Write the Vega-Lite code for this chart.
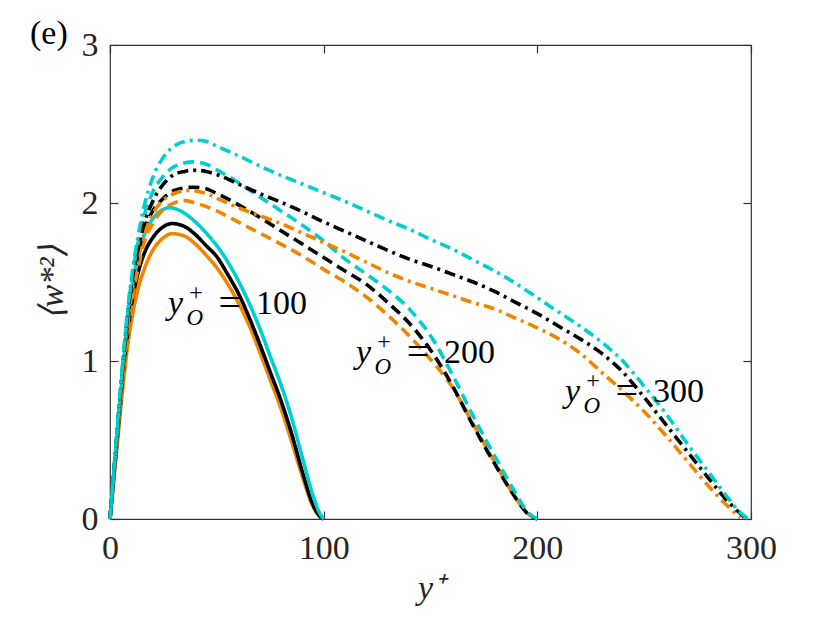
{
"$schema": "https://vega.github.io/schema/vega-lite/v6.json",
"width": 641, "height": 474,
"autosize": {"type": "none"},
"padding": {"left": 110, "top": 45, "right": 79, "bottom": 104},
"background": "white",
"title": {"text": "(e)", "anchor": "start", "frame": "group", "dx": -80, "offset": 0, "baseline": "middle", "dy": 40, "font": "Liberation Serif", "fontSize": 34, "fontWeight": "normal", "color": "#000"},
"config": {
  "view": {"stroke": "#333333", "strokeWidth": 1.2},
  "axis": {"domain": false, "grid": false, "labelFont": "Liberation Serif", "labelFontSize": 34, "labelColor": "#262626", "tickColor": "#333333", "tickSize": -8, "tickWidth": 1.2, "titleFont": "Liberation Serif", "titleFontSize": 34, "titleFontWeight": "normal", "titleColor": "#262626", "labelFlush": false, "labelOverlap": false},
  "text": {"font": "Liberation Serif"}
},
"datasets": {
"curves": [
{"s":"a","o":100,"x":0,"y":0},{"s":"a","o":100,"x":2,"y":0.28},{"s":"a","o":100,"x":4,"y":0.56},{"s":"a","o":100,"x":6,"y":0.83},{"s":"a","o":100,"x":8,"y":1.07},{"s":"a","o":100,"x":10,"y":1.25},{"s":"a","o":100,"x":13,"y":1.45},{"s":"a","o":100,"x":16,"y":1.58},{"s":"a","o":100,"x":20,"y":1.7},{"s":"a","o":100,"x":25,"y":1.78},{"s":"a","o":100,"x":29,"y":1.806},{"s":"a","o":100,"x":35,"y":1.79},{"s":"a","o":100,"x":40,"y":1.74},{"s":"a","o":100,"x":45,"y":1.67},{"s":"a","o":100,"x":50,"y":1.59},{"s":"a","o":100,"x":55,"y":1.49},{"s":"a","o":100,"x":60,"y":1.37},{"s":"a","o":100,"x":65,"y":1.23},{"s":"a","o":100,"x":70,"y":1.06},{"s":"a","o":100,"x":75,"y":0.88},{"s":"a","o":100,"x":80,"y":0.7},{"s":"a","o":100,"x":85,"y":0.49},{"s":"a","o":100,"x":90,"y":0.27},{"s":"a","o":100,"x":95,"y":0.08},{"s":"a","o":100,"x":98,"y":0.02},{"s":"a","o":100,"x":100,"y":0},
{"s":"b","o":100,"x":0,"y":0},{"s":"b","o":100,"x":2,"y":0.3},{"s":"b","o":100,"x":4,"y":0.6},{"s":"b","o":100,"x":6,"y":0.9},{"s":"b","o":100,"x":8,"y":1.15},{"s":"b","o":100,"x":10,"y":1.35},{"s":"b","o":100,"x":13,"y":1.55},{"s":"b","o":100,"x":16,"y":1.68},{"s":"b","o":100,"x":20,"y":1.78},{"s":"b","o":100,"x":25,"y":1.85},{"s":"b","o":100,"x":29,"y":1.87},{"s":"b","o":100,"x":35,"y":1.85},{"s":"b","o":100,"x":40,"y":1.8},{"s":"b","o":100,"x":45,"y":1.73},{"s":"b","o":100,"x":50,"y":1.66},{"s":"b","o":100,"x":55,"y":1.55},{"s":"b","o":100,"x":60,"y":1.43},{"s":"b","o":100,"x":65,"y":1.28},{"s":"b","o":100,"x":70,"y":1.11},{"s":"b","o":100,"x":75,"y":0.93},{"s":"b","o":100,"x":80,"y":0.75},{"s":"b","o":100,"x":85,"y":0.54},{"s":"b","o":100,"x":90,"y":0.3},{"s":"b","o":100,"x":95,"y":0.09},{"s":"b","o":100,"x":98,"y":0.02},{"s":"b","o":100,"x":100,"y":0},
{"s":"c","o":100,"x":0,"y":0},{"s":"c","o":100,"x":2,"y":0.32},{"s":"c","o":100,"x":4,"y":0.64},{"s":"c","o":100,"x":6,"y":0.95},{"s":"c","o":100,"x":8,"y":1.22},{"s":"c","o":100,"x":10,"y":1.44},{"s":"c","o":100,"x":13,"y":1.66},{"s":"c","o":100,"x":16,"y":1.8},{"s":"c","o":100,"x":20,"y":1.9},{"s":"c","o":100,"x":25,"y":1.96},{"s":"c","o":100,"x":28,"y":1.97},{"s":"c","o":100,"x":33,"y":1.95},{"s":"c","o":100,"x":40,"y":1.88},{"s":"c","o":100,"x":45,"y":1.81},{"s":"c","o":100,"x":50,"y":1.73},{"s":"c","o":100,"x":55,"y":1.63},{"s":"c","o":100,"x":60,"y":1.51},{"s":"c","o":100,"x":65,"y":1.37},{"s":"c","o":100,"x":70,"y":1.21},{"s":"c","o":100,"x":75,"y":1.03},{"s":"c","o":100,"x":80,"y":0.85},{"s":"c","o":100,"x":85,"y":0.64},{"s":"c","o":100,"x":90,"y":0.39},{"s":"c","o":100,"x":95,"y":0.15},{"s":"c","o":100,"x":98,"y":0.04},{"s":"c","o":100,"x":100,"y":0},
{"s":"a","o":200,"x":0,"y":0},{"s":"a","o":200,"x":2,"y":0.3},{"s":"a","o":200,"x":4,"y":0.6},{"s":"a","o":200,"x":6,"y":0.89},{"s":"a","o":200,"x":8,"y":1.14},{"s":"a","o":200,"x":10,"y":1.35},{"s":"a","o":200,"x":13,"y":1.58},{"s":"a","o":200,"x":16,"y":1.75},{"s":"a","o":200,"x":20,"y":1.87},{"s":"a","o":200,"x":25,"y":1.96},{"s":"a","o":200,"x":30,"y":2.0},{"s":"a","o":200,"x":34,"y":2.017},{"s":"a","o":200,"x":40,"y":2.0},{"s":"a","o":200,"x":50,"y":1.95},{"s":"a","o":200,"x":60,"y":1.88},{"s":"a","o":200,"x":70,"y":1.81},{"s":"a","o":200,"x":80,"y":1.74},{"s":"a","o":200,"x":90,"y":1.665},{"s":"a","o":200,"x":100,"y":1.58},{"s":"a","o":200,"x":110,"y":1.5},{"s":"a","o":200,"x":120,"y":1.405},{"s":"a","o":200,"x":130,"y":1.29},{"s":"a","o":200,"x":140,"y":1.16},{"s":"a","o":200,"x":150,"y":1.01},{"s":"a","o":200,"x":160,"y":0.84},{"s":"a","o":200,"x":170,"y":0.6},{"s":"a","o":200,"x":180,"y":0.36},{"s":"a","o":200,"x":190,"y":0.13},{"s":"a","o":200,"x":195,"y":0.04},{"s":"a","o":200,"x":200,"y":0},
{"s":"b","o":200,"x":0,"y":0},{"s":"b","o":200,"x":2,"y":0.32},{"s":"b","o":200,"x":4,"y":0.64},{"s":"b","o":200,"x":6,"y":0.95},{"s":"b","o":200,"x":8,"y":1.22},{"s":"b","o":200,"x":10,"y":1.44},{"s":"b","o":200,"x":13,"y":1.67},{"s":"b","o":200,"x":16,"y":1.83},{"s":"b","o":200,"x":20,"y":1.95},{"s":"b","o":200,"x":25,"y":2.03},{"s":"b","o":200,"x":30,"y":2.08},{"s":"b","o":200,"x":39,"y":2.1},{"s":"b","o":200,"x":45,"y":2.09},{"s":"b","o":200,"x":50,"y":2.06},{"s":"b","o":200,"x":60,"y":1.99},{"s":"b","o":200,"x":70,"y":1.91},{"s":"b","o":200,"x":80,"y":1.825},{"s":"b","o":200,"x":90,"y":1.74},{"s":"b","o":200,"x":100,"y":1.655},{"s":"b","o":200,"x":110,"y":1.57},{"s":"b","o":200,"x":120,"y":1.485},{"s":"b","o":200,"x":130,"y":1.37},{"s":"b","o":200,"x":140,"y":1.24},{"s":"b","o":200,"x":150,"y":1.07},{"s":"b","o":200,"x":160,"y":0.85},{"s":"b","o":200,"x":170,"y":0.59},{"s":"b","o":200,"x":180,"y":0.35},{"s":"b","o":200,"x":190,"y":0.13},{"s":"b","o":200,"x":195,"y":0.04},{"s":"b","o":200,"x":200,"y":0},
{"s":"c","o":200,"x":0,"y":0},{"s":"c","o":200,"x":2,"y":0.33},{"s":"c","o":200,"x":4,"y":0.66},{"s":"c","o":200,"x":6,"y":0.98},{"s":"c","o":200,"x":8,"y":1.27},{"s":"c","o":200,"x":10,"y":1.5},{"s":"c","o":200,"x":13,"y":1.74},{"s":"c","o":200,"x":16,"y":1.92},{"s":"c","o":200,"x":20,"y":2.07},{"s":"c","o":200,"x":25,"y":2.17},{"s":"c","o":200,"x":30,"y":2.23},{"s":"c","o":200,"x":39,"y":2.26},{"s":"c","o":200,"x":45,"y":2.245},{"s":"c","o":200,"x":50,"y":2.21},{"s":"c","o":200,"x":60,"y":2.13},{"s":"c","o":200,"x":70,"y":2.04},{"s":"c","o":200,"x":80,"y":1.95},{"s":"c","o":200,"x":90,"y":1.86},{"s":"c","o":200,"x":100,"y":1.76},{"s":"c","o":200,"x":110,"y":1.645},{"s":"c","o":200,"x":120,"y":1.55},{"s":"c","o":200,"x":130,"y":1.45},{"s":"c","o":200,"x":140,"y":1.33},{"s":"c","o":200,"x":150,"y":1.16},{"s":"c","o":200,"x":160,"y":0.92},{"s":"c","o":200,"x":170,"y":0.65},{"s":"c","o":200,"x":180,"y":0.4},{"s":"c","o":200,"x":190,"y":0.16},{"s":"c","o":200,"x":195,"y":0.05},{"s":"c","o":200,"x":200,"y":0},
{"s":"a","o":300,"x":0,"y":0},{"s":"a","o":300,"x":2,"y":0.31},{"s":"a","o":300,"x":4,"y":0.62},{"s":"a","o":300,"x":6,"y":0.92},{"s":"a","o":300,"x":8,"y":1.19},{"s":"a","o":300,"x":10,"y":1.41},{"s":"a","o":300,"x":13,"y":1.64},{"s":"a","o":300,"x":16,"y":1.8},{"s":"a","o":300,"x":20,"y":1.93},{"s":"a","o":300,"x":25,"y":2.02},{"s":"a","o":300,"x":30,"y":2.06},{"s":"a","o":300,"x":37,"y":2.08},{"s":"a","o":300,"x":45,"y":2.06},{"s":"a","o":300,"x":50,"y":2.03},{"s":"a","o":300,"x":60,"y":1.97},{"s":"a","o":300,"x":70,"y":1.92},{"s":"a","o":300,"x":80,"y":1.87},{"s":"a","o":300,"x":90,"y":1.81},{"s":"a","o":300,"x":100,"y":1.75},{"s":"a","o":300,"x":110,"y":1.69},{"s":"a","o":300,"x":120,"y":1.625},{"s":"a","o":300,"x":130,"y":1.56},{"s":"a","o":300,"x":140,"y":1.505},{"s":"a","o":300,"x":150,"y":1.46},{"s":"a","o":300,"x":160,"y":1.415},{"s":"a","o":300,"x":170,"y":1.37},{"s":"a","o":300,"x":180,"y":1.33},{"s":"a","o":300,"x":190,"y":1.27},{"s":"a","o":300,"x":200,"y":1.21},{"s":"a","o":300,"x":210,"y":1.14},{"s":"a","o":300,"x":220,"y":1.05},{"s":"a","o":300,"x":230,"y":0.93},{"s":"a","o":300,"x":240,"y":0.81},{"s":"a","o":300,"x":250,"y":0.68},{"s":"a","o":300,"x":260,"y":0.53},{"s":"a","o":300,"x":270,"y":0.37},{"s":"a","o":300,"x":280,"y":0.21},{"s":"a","o":300,"x":290,"y":0.07},{"s":"a","o":300,"x":295,"y":0.01},
{"s":"b","o":300,"x":0,"y":0},{"s":"b","o":300,"x":2,"y":0.33},{"s":"b","o":300,"x":4,"y":0.66},{"s":"b","o":300,"x":6,"y":0.97},{"s":"b","o":300,"x":8,"y":1.26},{"s":"b","o":300,"x":10,"y":1.48},{"s":"b","o":300,"x":13,"y":1.7},{"s":"b","o":300,"x":16,"y":1.87},{"s":"b","o":300,"x":20,"y":2.01},{"s":"b","o":300,"x":25,"y":2.12},{"s":"b","o":300,"x":30,"y":2.18},{"s":"b","o":300,"x":35,"y":2.2},{"s":"b","o":300,"x":40,"y":2.207},{"s":"b","o":300,"x":45,"y":2.2},{"s":"b","o":300,"x":50,"y":2.18},{"s":"b","o":300,"x":60,"y":2.12},{"s":"b","o":300,"x":70,"y":2.06},{"s":"b","o":300,"x":80,"y":2.005},{"s":"b","o":300,"x":90,"y":1.945},{"s":"b","o":300,"x":100,"y":1.88},{"s":"b","o":300,"x":110,"y":1.82},{"s":"b","o":300,"x":120,"y":1.76},{"s":"b","o":300,"x":130,"y":1.7},{"s":"b","o":300,"x":140,"y":1.645},{"s":"b","o":300,"x":150,"y":1.6},{"s":"b","o":300,"x":160,"y":1.55},{"s":"b","o":300,"x":170,"y":1.5},{"s":"b","o":300,"x":180,"y":1.44},{"s":"b","o":300,"x":190,"y":1.37},{"s":"b","o":300,"x":200,"y":1.3},{"s":"b","o":300,"x":210,"y":1.22},{"s":"b","o":300,"x":220,"y":1.14},{"s":"b","o":300,"x":230,"y":1.05},{"s":"b","o":300,"x":240,"y":0.93},{"s":"b","o":300,"x":250,"y":0.77},{"s":"b","o":300,"x":260,"y":0.6},{"s":"b","o":300,"x":270,"y":0.43},{"s":"b","o":300,"x":280,"y":0.26},{"s":"b","o":300,"x":290,"y":0.1},{"s":"b","o":300,"x":297,"y":0.01},
{"s":"c","o":300,"x":0,"y":0},{"s":"c","o":300,"x":2,"y":0.34},{"s":"c","o":300,"x":4,"y":0.68},{"s":"c","o":300,"x":6,"y":1.0},{"s":"c","o":300,"x":8,"y":1.29},{"s":"c","o":300,"x":10,"y":1.52},{"s":"c","o":300,"x":13,"y":1.78},{"s":"c","o":300,"x":16,"y":1.98},{"s":"c","o":300,"x":20,"y":2.16},{"s":"c","o":300,"x":25,"y":2.29},{"s":"c","o":300,"x":30,"y":2.36},{"s":"c","o":300,"x":35,"y":2.39},{"s":"c","o":300,"x":40,"y":2.397},{"s":"c","o":300,"x":45,"y":2.39},{"s":"c","o":300,"x":50,"y":2.36},{"s":"c","o":300,"x":60,"y":2.3},{"s":"c","o":300,"x":70,"y":2.235},{"s":"c","o":300,"x":80,"y":2.175},{"s":"c","o":300,"x":90,"y":2.12},{"s":"c","o":300,"x":100,"y":2.065},{"s":"c","o":300,"x":110,"y":2.01},{"s":"c","o":300,"x":120,"y":1.95},{"s":"c","o":300,"x":130,"y":1.89},{"s":"c","o":300,"x":140,"y":1.835},{"s":"c","o":300,"x":150,"y":1.77},{"s":"c","o":300,"x":160,"y":1.71},{"s":"c","o":300,"x":170,"y":1.64},{"s":"c","o":300,"x":180,"y":1.57},{"s":"c","o":300,"x":190,"y":1.49},{"s":"c","o":300,"x":200,"y":1.4},{"s":"c","o":300,"x":210,"y":1.31},{"s":"c","o":300,"x":220,"y":1.22},{"s":"c","o":300,"x":230,"y":1.12},{"s":"c","o":300,"x":240,"y":1.0},{"s":"c","o":300,"x":250,"y":0.84},{"s":"c","o":300,"x":260,"y":0.67},{"s":"c","o":300,"x":270,"y":0.48},{"s":"c","o":300,"x":280,"y":0.3},{"s":"c","o":300,"x":290,"y":0.12},{"s":"c","o":300,"x":295,"y":0.04},{"s":"c","o":300,"x":299,"y":0}
],
"labels": [
{"x":27.1,"y":1.30,"t":"100"},
{"x":115.1,"y":0.985,"t":"200"},
{"x":212.9,"y":0.739,"t":"300"}
]
},
"resolve": {"axis": {"x": "independent", "y": "independent"}},
"layer": [
{
  "data": {"name": "curves"},
  "mark": {"type": "line", "strokeWidth": 3.6, "interpolate": "monotone"},
  "encoding": {
    "x": {"field": "x", "type": "quantitative", "scale": {"domain": [0, 300], "nice": false, "zero": false}, "axis": {"orient": "bottom", "values": [0, 100, 200, 300], "title": "y⁺", "titleFontStyle": "italic", "labelPadding": 20, "labelBaseline": "top", "titlePadding": 6}},
    "y": {"field": "y", "type": "quantitative", "scale": {"domain": [0, 3], "nice": false}, "axis": {"orient": "left", "values": [0, 1, 2, 3], "title": "⟨w*²⟩", "titleFontStyle": "italic", "labelPadding": 20, "titlePadding": 12}},
    "color": {"field": "s", "type": "nominal", "scale": {"domain": ["a", "b", "c"], "range": ["#F28500", "#000000", "#00CED1"]}, "legend": null},
    "strokeDash": {"field": "o", "type": "ordinal", "scale": {"domain": [100, 200, 300], "range": [[1, 0], [11, 6], [11, 5, 3, 5]]}, "legend": null}
  }
},
{
  "data": {"name": "labels"},
  "mark": {"type": "text", "fontSize": 34, "fontStyle": "italic", "align": "left", "baseline": "alphabetic", "color": "#000"},
  "encoding": {
    "x": {"field": "x", "type": "quantitative", "axis": {"orient": "top", "values": [0, 100, 200, 300], "labels": false, "title": null}},
    "y": {"field": "y", "type": "quantitative", "axis": {"orient": "right", "values": [0, 1, 2, 3], "labels": false, "title": null}},
    "text": {"value": "y"}
  }
},
{
  "data": {"name": "labels"},
  "mark": {"type": "text", "fontSize": 24, "align": "center", "baseline": "alphabetic", "dx": 28, "dy": -14, "color": "#000"},
  "encoding": {
    "x": {"field": "x", "type": "quantitative", "axis": null},
    "y": {"field": "y", "type": "quantitative", "axis": null},
    "text": {"value": "+"}
  }
},
{
  "data": {"name": "labels"},
  "mark": {"type": "text", "fontSize": 23, "fontStyle": "italic", "align": "center", "baseline": "alphabetic", "dx": 27, "dy": 11, "color": "#000"},
  "encoding": {
    "x": {"field": "x", "type": "quantitative", "axis": null},
    "y": {"field": "y", "type": "quantitative", "axis": null},
    "text": {"value": "O"}
  }
},
{
  "data": {"name": "labels"},
  "mark": {"type": "text", "fontSize": 40, "align": "center", "baseline": "alphabetic", "dx": 62, "dy": 2, "color": "#000"},
  "encoding": {
    "x": {"field": "x", "type": "quantitative", "axis": null},
    "y": {"field": "y", "type": "quantitative", "axis": null},
    "text": {"value": "="}
  }
},
{
  "data": {"name": "labels"},
  "mark": {"type": "text", "fontSize": 34, "align": "left", "baseline": "alphabetic", "dx": 88, "color": "#000"},
  "encoding": {
    "x": {"field": "x", "type": "quantitative", "axis": null},
    "y": {"field": "y", "type": "quantitative", "axis": null},
    "text": {"field": "t"}
  }
}
]
}
